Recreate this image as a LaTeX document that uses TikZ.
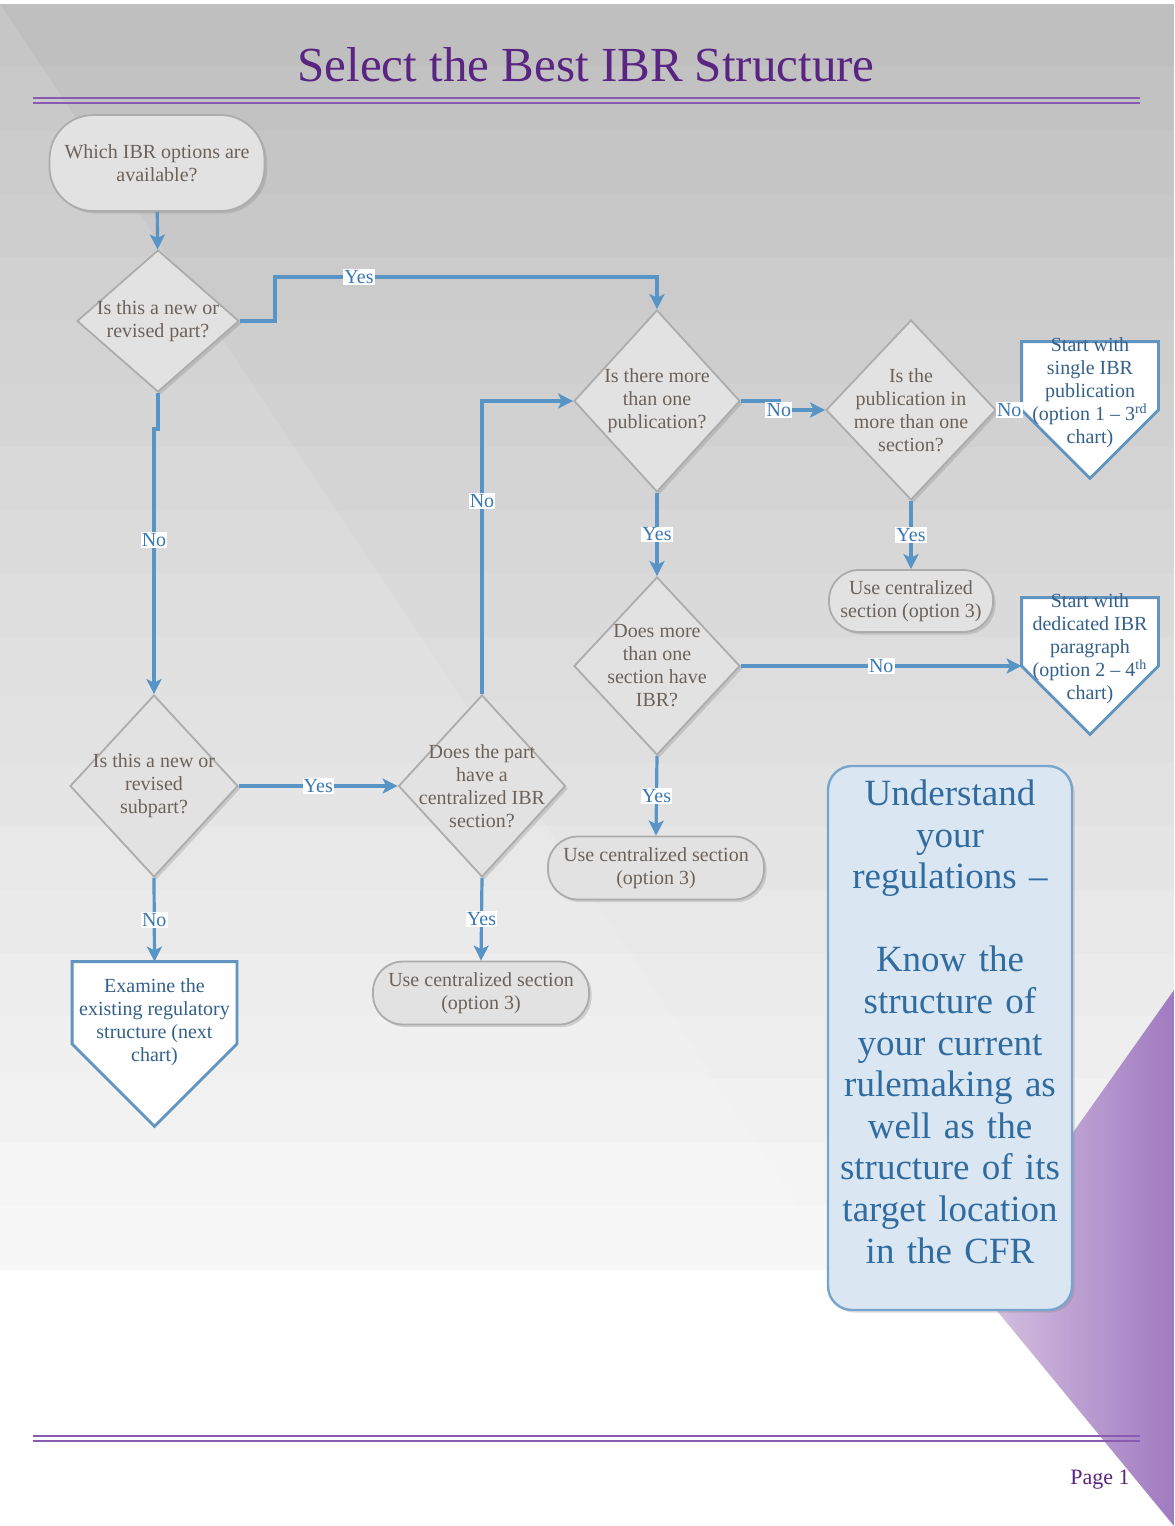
\documentclass[tikz,border=0pt]{standalone}
\usepackage{fontspec}
\setmainfont{Liberation Serif}
\usetikzlibrary{shapes.geometric,arrows.meta,shadows}

\definecolor{flowblue}{RGB}{88,148,198}
\definecolor{qtextc}{RGB}{108,98,90}
\definecolor{offblue}{RGB}{98,148,192}
\definecolor{offtext}{RGB}{52,96,138}
\definecolor{lblblue}{RGB}{58,120,178}
\definecolor{titlepurple}{RGB}{90,36,130}
\definecolor{rulepurple}{RGB}{136,90,176}
\definecolor{boxfill}{RGB}{218,230,242}
\definecolor{boxedge}{RGB}{120,165,205}
\definecolor{boxtext}{RGB}{48,108,160}
\definecolor{shapefill}{RGB}{226,226,226}
\definecolor{shapeedge}{RGB}{172,172,172}
\definecolor{lavlight}{RGB}{218,200,228}
\definecolor{lavdark}{RGB}{160,122,192}

\tikzset{
  conn/.style={draw=flowblue, line width=1.6pt, -{Stealth[length=7.5pt,width=7.5pt,inset=1.8pt]}},
  lbl/.style={fill=white, text=lblblue, font=\fontsize{10}{11}\selectfont, inner sep=0.6pt},
  qtext/.style={text=qtextc, font=\fontsize{10}{11.5}\selectfont, align=center},
  offlbl/.style={text=offtext, font=\fontsize{10}{11.5}\selectfont, align=center},
  bigtext/.style={text=boxtext, font=\fontsize{18.5}{20.8}\selectfont, align=center, text width=122pt},
  softshadow/.style={drop shadow={shadow xshift=1.3pt, shadow yshift=-1.3pt, opacity=0.28}},
  decision/.style 2 args={diamond, minimum width=#1, minimum height=#2, inner sep=0pt,
    fill=shapefill, draw=shapeedge, line width=0.9pt, softshadow},
  terminal/.style={rectangle, rounded corners=15pt, inner sep=1pt, fill=shapefill,
    draw=shapeedge, line width=0.9pt, softshadow, qtext},
  offedge/.style={draw=offblue, fill=white, line width=1.4pt},
  offpage/.style={rectangle, minimum width=#1, minimum height=#1, inner sep=0pt,
    append after command={\pgfextra{\draw[offedge] (\tikzlastnode.north west) -- (\tikzlastnode.north east)
      -- (\tikzlastnode.east) -- (\tikzlastnode.south) -- (\tikzlastnode.west) -- cycle;}}},
  infobox/.style={rectangle, rounded corners=12pt, minimum width=122pt, minimum height=272pt,
    fill=boxfill, draw=boxedge, line width=1.2pt, softshadow},
  rule/.style={draw=rulepurple, line width=1.3pt}
}

\begin{document}
\begin{tikzpicture}[x=0.5pt,y=-0.5pt]
\useasboundingbox (0,0) rectangle (1174,1526);
\fill[white] (0,0) rectangle (1174,1526);
\foreach \i in {0,...,19}{
  \pgfmathsetmacro{\shade}{25-1.15*\i}
  \fill[black!\shade] (0,4+63.25*\i) rectangle (1174,4+63.25*\i+64);
}
\fill[white, opacity=0.12] (0,4) -- (840,1269) -- (0,1269) -- cycle;
\shade[left color=lavlight, right color=lavdark] (1174,990) -- (970,1278) -- (1174,1526) -- cycle;

\node[text=titlepurple, font=\fontsize{24.5}{28}\selectfont] (ttl) at (586,65) {Select the Best IBR Structure};
\foreach \y in {98,103,1436,1441}
  \draw[rule] (33,\y) -- (1140,\y);
\node[text=titlepurple, font=\fontsize{11}{13}\selectfont] (pg) at (1100,1480) {Page 1};

\node[terminal, rounded corners=22pt, minimum width=107.5pt, minimum height=48pt] (st) at (157,163) {Which IBR options are\\available?};
\node[decision={81pt}{71pt}, label={[qtext]center:{Is this a new or\\revised part?}}] (d1) at (158,321) {};
\node[decision={83pt}{91pt}, label={[qtext]center:{Is there more\\than one\\publication?}}] (d2) at (657,401) {};
\node[decision={85pt}{90pt}, label={[qtext]center:{Is the\\publication in\\more than one\\section?}}] (d3) at (911,410) {};
\node[decision={83pt}{89pt}, label={[qtext]center:{Does more\\than one\\section have\\IBR?}}] (d4) at (657,666) {};
\node[decision={84pt}{91pt}, label={[qtext]center:{Is this a new or\\revised\\subpart?}}] (d5) at (154,786) {};
\node[decision={83.5pt}{91pt}, label={[qtext]center:{Does the part\\have a\\centralized IBR\\section?}}] (d6) at (482,786) {};

\node[terminal, minimum width=82pt, minimum height=31pt] (uc1) at (911,601) {Use centralized\\section (option 3)};
\node[terminal, minimum width=108pt, minimum height=31.5pt] (uc2) at (656,868) {Use centralized section\\(option 3)};
\node[terminal, minimum width=108pt, minimum height=31.5pt] (uc3) at (481,993) {Use centralized section\\(option 3)};

\node[offpage=68pt, label={[offlbl, yshift=8.5pt]center:{Start with\\single IBR\\publication\\(option 1 – 3\textsuperscript{rd}\\chart)}}] (sp) at (1090,410) {};
\node[offpage=68pt, label={[offlbl, yshift=8.5pt]center:{Start with\\dedicated IBR\\paragraph\\(option 2 – 4\textsuperscript{th}\\chart)}}] (dp) at (1090,666) {};
\node[offpage=82pt, label={[offlbl, yshift=11pt]center:{Examine the\\existing regulatory\\structure (next\\chart)}}] (ex) at (154.5,1044) {};

\node[infobox, label={[bigtext, anchor=north, yshift=-4pt]north:{Understand\\your\\regulations –\\[20.8pt]Know the\\structure of\\your current\\rulemaking as\\well as the\\structure of its\\target location\\in the CFR}}] (ub) at (950,1038) {};

\coordinate (yesbend) at (275,277);
\draw[conn] (st) -- (d1);
\draw[conn] (d1.east) -| (yesbend) -| node[lbl, pos=0.11]{Yes} (d2.north);
\draw[conn] (d1.south) -- ++(0,36) -| node[lbl, pos=0.71]{No} (d5.north);
\draw[conn] (d5.east) -- node[lbl]{Yes} (d6.west);
\draw[conn] (d6.north) |- node[lbl, pos=0.33]{No} (d2.west);
\draw[conn] (d2.east) -- ++(38,0) |- node[lbl, pos=0.5]{No} (d3.west);
\draw[conn] (d3.east) -- node[lbl]{No} (sp.west);
\draw[conn] (d3.south) -- node[lbl]{Yes} (uc1.north);
\draw[conn] (d2.south) -- node[lbl]{Yes} (d4.north);
\draw[conn] (d4.east) -- node[lbl]{No} (dp.west);
\draw[conn] (d4.south) -- node[lbl]{Yes} (uc2.north);
\draw[conn] (d5.south) -- node[lbl]{No} (ex.north);
\draw[conn] (d6.south) -- node[lbl]{Yes} (uc3.north);
\end{tikzpicture}
\end{document}
